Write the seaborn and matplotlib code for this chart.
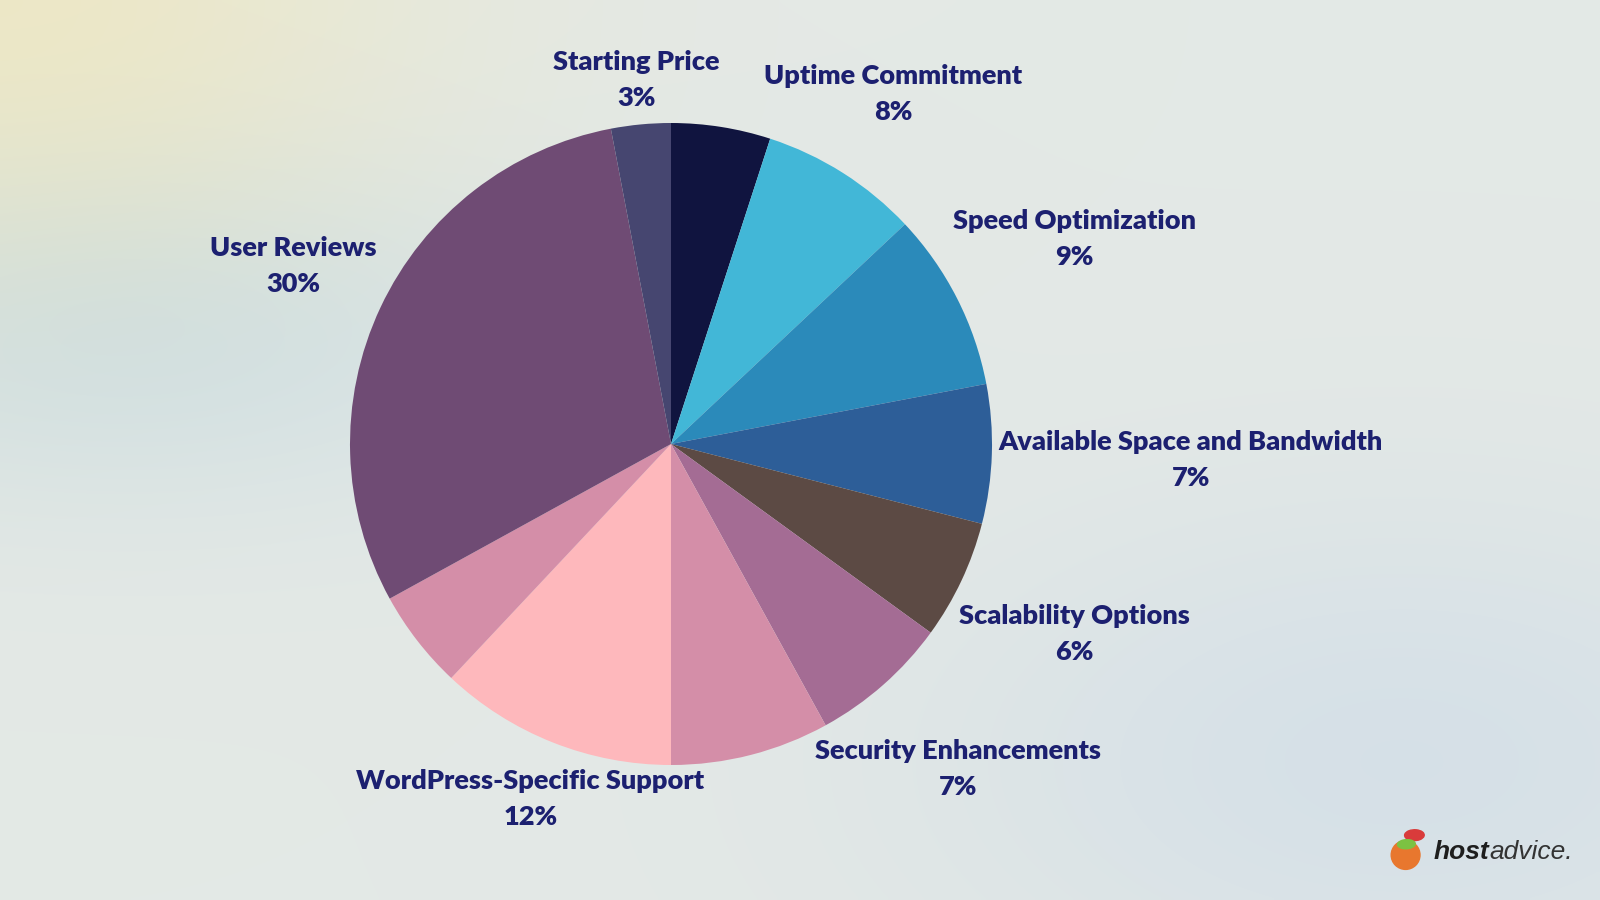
import numpy as np
import matplotlib
matplotlib.use('Agg')
import matplotlib.pyplot as plt
from matplotlib.patches import Ellipse
import seaborn as sns

# data (clockwise from 12 o'clock)
categories = ['', 'Uptime Commitment', 'Speed Optimization', 'Available Space and Bandwidth',
              'Scalability Options', 'Security Enhancements', '', 'WordPress-Specific Support',
              '', 'User Reviews', 'Starting Price']
values = [5, 8, 9, 7, 6, 7, 8, 12, 5, 30, 3]
colors = ['#10143f', '#42b7d7', '#2b8aba', '#2d5e98', '#5c4a44', '#a46c94',
          '#d48ea8', '#feb8bc', '#d48ea8', '#6f4b74', '#464670']
label_dist = [0, 1.29, 1.41, 1.62, 1.39, 1.35, 0, 1.19, 0, 1.30, 1.14]

sns.set_theme(style='white')
plt.rcParams['font.family'] = ['Lato', 'DejaVu Sans']

fig = plt.figure(figsize=(16, 9), dpi=100)

# background gradient
bg = fig.add_axes([0, 0, 1, 1])
yy, xx = np.mgrid[0:900:4, 0:1600:4]
base = np.array([0.894, 0.914, 0.902])
img = np.ones(yy.shape + (3,)) * base


def blob(cx, cy, sx, sy, col, strength):
    w = np.exp(-(((xx - cx) / sx) ** 2 + ((yy - cy) / sy) ** 2)) * strength
    return w[..., None] * (np.array(col) - base)


img += blob(0, 0, 420, 320, [0.930, 0.910, 0.780], 1.0)
img += blob(120, 330, 450, 180, [0.810, 0.875, 0.905], 0.9)
img += blob(1400, 760, 480, 260, [0.825, 0.872, 0.910], 0.8)
bg.imshow(np.clip(img, 0, 1), extent=[0, 1600, 900, 0], aspect='auto', interpolation='bilinear')
bg.axis('off')

# pie: center (671, 444) px, radius 321 px
cx, cy, r = 671, 444, 321
ax = fig.add_axes([(cx - r) / 1600, (900 - cy - r) / 900, 2 * r / 1600, 2 * r / 900])
wedges, _ = ax.pie(values, colors=colors, startangle=90, counterclock=False,
                   wedgeprops=dict(linewidth=0))
ax.set_xlim(-1, 1)
ax.set_ylim(-1, 1)
ax.set_aspect('auto')
ax.axis('off')

total = sum(values)
for w, lab, v, d in zip(wedges, categories, values, label_dist):
    if not lab:
        continue
    ang = np.deg2rad((w.theta1 + w.theta2) / 2)
    ax.text(d * np.cos(ang), d * np.sin(ang), f'{lab}\n{round(v / total * 100)}%',
            ha='center', va='center', fontsize=19.5, fontweight='heavy',
            color='#1c2070', linespacing=1.6, clip_on=False)

# logo
t1 = fig.text(0.896, 0.053, 'host', fontsize=19, fontweight='bold', style='italic',
              color='#1e1e1e', family=['Liberation Sans', 'DejaVu Sans'], ha='left', va='center')
fig.canvas.draw()
x_end = t1.get_window_extent().x1 / 1600
fig.text(x_end, 0.053, 'advice.', fontsize=19, style='italic',
         color='#333333', family=['Liberation Sans', 'DejaVu Sans'], ha='left', va='center')
fig.patches.append(Ellipse((0.8785, 0.050), 0.032 * 900 / 1600, 0.032, transform=fig.transFigure,
                           color='#e8772e', figure=fig))
fig.patches.append(Ellipse((0.884, 0.072), 0.022 * 900 / 1600, 0.012, angle=35,
                           transform=fig.transFigure, color='#d93b3b', figure=fig))
fig.patches.append(Ellipse((0.879, 0.062), 0.020 * 900 / 1600, 0.010, angle=20,
                           transform=fig.transFigure, color='#7cc242', figure=fig))

plt.savefig('out.png', dpi=100)
